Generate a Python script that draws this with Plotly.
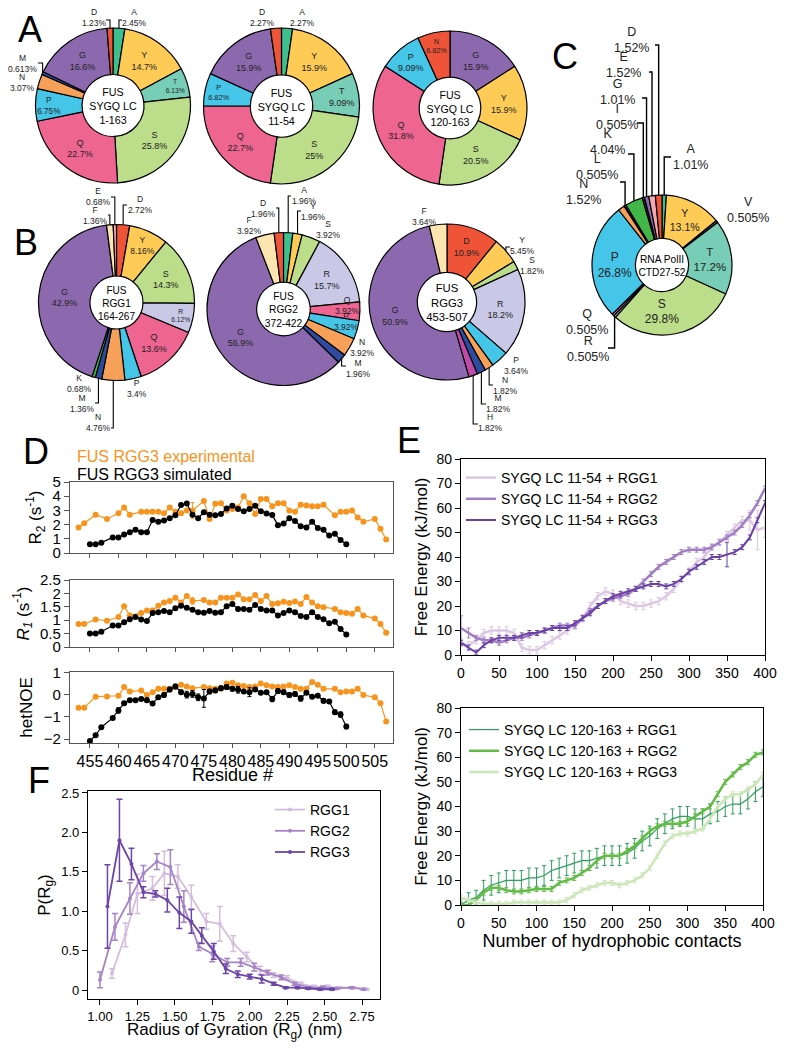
import math
import plotly.graph_objects as go

W, H = 788, 1050
PAGE_MARGIN = 8  # default <body> margin of the written page
FONT = "Arial, Liberation Sans, sans-serif"

# ---------------- amino-acid compositions (%), clockwise from 12 o'clock ----------------
a1_res = ["A", "Y", "T", "S", "Q", "P", "N", "M", "G", "D"]
a1_pct = [2.45, 14.7, 6.13, 25.8, 22.7, 6.75, 3.07, 0.613, 16.6, 1.23]
a2_res = ["A", "Y", "T", "S", "Q", "P", "G", "D"]
a2_pct = [2.27, 15.9, 9.09, 25, 22.7, 6.82, 15.9, 2.27]
a3_res = ["G", "Y", "S", "Q", "P", "N"]
a3_pct = [15.9, 15.9, 20.5, 31.8, 9.09, 6.82]
b1_res = ["D", "Y", "S", "R", "Q", "P", "N", "M", "K", "G", "F", "E"]
b1_pct = [2.72, 8.16, 14.3, 6.12, 13.6, 3.4, 4.76, 1.36, 0.68, 42.9, 1.36, 0.68]
b2_res = ["A", "Y", "S", "R", "Q", "P", "N", "M", "G", "F", "D"]
b2_pct = [1.96, 1.96, 3.92, 15.7, 3.92, 3.92, 3.92, 1.96, 56.9, 3.92, 1.96]
b3_res = ["D", "Y", "S", "R", "P", "N", "M", "H", "G", "F"]
b3_pct = [10.9, 5.45, 1.82, 18.2, 3.64, 1.82, 1.82, 1.82, 50.9, 3.64]
c_res = ["A", "Y", "V", "T", "S", "R", "Q", "P", "N", "L", "K", "I", "G", "E", "D"]
c_pct = [1.01, 13.1, 0.505, 17.2, 29.8, 0.505, 0.505, 26.8, 1.52, 0.505, 4.04, 0.505, 1.01, 1.52, 1.52]

# ---------------- D: NMR relaxation of FUS RGG3 ----------------
exp_res = [453, 454, 456, 458, 460, 461, 462, 464, 465, 466, 467, 468, 469, 470, 471, 472, 473,
           475, 476, 477, 478, 479, 480, 481, 482, 483, 484, 485, 486, 487, 488, 489, 490, 491,
           492, 493, 494, 495, 496, 498, 499, 500, 501, 502, 503, 505, 506, 507]
exp_r2 = [1.8, 2.1, 2.7, 2.4, 2.8, 3.2, 2.7, 2.9, 2.9, 2.9, 2.9, 2.8, 3.2, 2.9, 2.8, 3.0, 3.0,
          3.66, 2.4, 3.46, 3.5, 3.0, 3.1, 3.2, 4.0, 3.5, 2.75, 3.8, 3.8, 3.3, 3.5, 3.5, 3.0, 2.9,
          3.4, 3.35, 3.3, 3.3, 3.4, 2.65, 2.9, 2.9, 3.0, 2.5, 2.2, 2.4, 1.7, 0.95]
exp_r1 = [0.86, 0.86, 1.03, 0.98, 1.12, 1.52, 1.18, 1.27, 1.36, 1.36, 1.54, 1.66, 1.72, 1.84, 1.66,
          1.90, 1.72, 1.75, 1.66, 1.66, 1.84, 1.84, 1.84, 1.96, 1.78, 1.78, 1.94, 1.72, 1.90, 1.60,
          1.63, 1.69, 1.64, 1.70, 1.60, 1.87, 1.66, 1.52, 1.48, 1.42, 1.30, 1.27, 1.24, 1.42, 1.18,
          1.06, 0.86, 0.53]
exp_noe = [-0.59, -0.59, -0.09, -0.08, -0.05, 0.34, 0.14, 0.19, -0.02, 0.11, 0.26, 0.26, 0.26, 0.34,
           0.45, 0.37, 0.29, 0.34, 0.29, 0.26, 0.26, 0.50, 0.53, 0.42, 0.39, 0.34, 0.37, 0.50, 0.42,
           0.37, 0.34, 0.37, 0.42, 0.34, 0.26, 0.26, 0.57, 0.45, 0.26, 0.26, 0.11, 0.14, 0.14, 0.26,
           -0.02, -0.12, -0.39, -1.21]
exp_r2_err = [0.55 if r == 473 else 0.0 for r in exp_res]
exp_r1_err = [0.12 if r == 473 else 0.0 for r in exp_res]

sim_res = [455, 456, 457] + list(range(459, 501))
sim_r2 = [0.61, 0.61, 0.73, 1.10, 1.10, 1.30, 1.47, 1.64, 1.47, 1.47, 2.33, 2.2, 2.28, 2.45, 2.65,
          3.38, 3.48, 2.7, 2.45, 2.87, 2.7, 2.65, 2.75, 3.14, 3.33, 3.1, 2.94, 3.1, 3.33, 2.94, 2.79,
          2.67, 1.96, 2.08, 2.45, 2.25, 1.89, 1.8, 2.2, 1.76, 1.64, 1.23, 1.35, 0.91, 0.61]
sim_r1 = [0.50, 0.50, 0.57, 0.80, 0.80, 0.92, 1.04, 1.12, 1.03, 0.97, 1.27, 1.30, 1.34, 1.30, 1.45,
          1.54, 1.46, 1.39, 1.30, 1.28, 1.34, 1.28, 1.30, 1.52, 1.60, 1.42, 1.42, 1.39, 1.57, 1.42,
          1.36, 1.36, 1.18, 1.27, 1.36, 1.30, 1.16, 1.12, 1.30, 1.12, 1.04, 0.89, 0.94, 0.67, 0.47]
sim_noe = [-2.09, -1.83, -1.47, -1.05, -0.71, -0.39, -0.25, -0.25, -0.20, -0.25, -0.40, -0.12, -0.02,
           0.23, 0.37, 0.11, 0.0, 0.03, -0.12, -0.17, 0.14, 0.19, 0.29, 0.34, 0.26, 0.22, 0.14, 0.11,
           0.23, 0.08, 0.11, -0.20, 0.16, 0.11, -0.02, 0.03, -0.17, 0.08, -0.09, -0.05, -0.28, -0.31,
           -0.79, -0.90, -1.44]
sim_noe_err = [0.05, 0.05, 0.05, 0.05, 0.12, 0.05, 0.05, 0.05, 0.05, 0.1, 0.05, 0.05, 0.1, 0.1, 0.1,
               0.1, 0.15, 0.15, 0.15, 0.4, 0.1, 0.1, 0.1, 0.1, 0.1, 0.15, 0.05, 0.2, 0.05, 0.05, 0.05,
               0.12, 0.1, 0.1, 0.1, 0.1, 0.12, 0.05, 0.05, 0.05, 0.1, 0.08, 0.1, 0.12, 0.1]

# ---------------- E: free energy vs hydrophobic contacts ----------------
contacts = list(range(0, 401, 10))
lc54_rgg1 = [5, 4, 6, 9, 10, 10, 10, 9, 3, 2, 2, 4, 6, 8, 10, 12, 15, 20, 24, 26, 25, 22, 21, 20,
             20, 21, 22, 24, 27, 31, 34, 38, 40, 44, 46, 49, 52, 55, 55, 51, 52]
lc54_rgg2 = [11, 9, 7, 6, 6, 5, 6, 7, 7, 8, 9, 10, 11, 12, 12, 12, 15, 18, 20, 22, 23, 24, 25, 27,
             30, 33, 36, 38, 40, 42, 43, 43, 43, 44, 46, 48, 50, 53, 57, 62, 68]
lc54_rgg3 = [5, 3, 1, 4, 6, 7, 7, 7, 8, 9, 9, 10, 11, 11, 11, 13, 15, 17, 20, 22, 24, 25, 26, 27,
             28, 29, 29, 28, 29, 31, 34, 36, 38, 40, 40, 41, 42, 44, 48, 55, 62]
lc54_rgg1_err = [1.5] * 38 + [4, 8, 4]
lc54_rgg2_err = [5, 2] + [1] * 39
lc54_rgg3_err = [1] * 35 + [5, 1, 1, 1, 1, 1]

lc163_rgg1 = [0, 2, 3, 6, 8, 9, 10, 10, 10, 11, 11, 12, 14, 15, 16, 17, 18, 18, 19, 20, 20, 20, 21,
              23, 26, 28, 31, 33, 35, 36, 36, 35, 35, 37, 38, 40, 41, 41, 43, 46, 48]
lc163_rgg2 = [0, 0, 2, 5, 7, 7, 6, 5.5, 5.5, 6, 6.5, 6.5, 6.5, 9, 10, 11, 13, 15, 18, 20, 20, 20,
              22, 24, 27, 30, 32, 33, 33, 33, 34, 36, 38, 40, 45, 50, 53, 56, 58, 61, 62]
lc163_rgg3 = [3, 2, 1, 0.5, 0.5, 0.5, 0.5, 1, 1, 1, 1, 1, 1, 1, 2, 4, 6, 7, 8, 9, 9, 8, 9, 10,
              12, 15, 20, 25, 28, 29, 29, 30, 31, 35, 40, 43, 45, 45, 47, 49, 53]
lc163_rgg1_err = [3, 3, 3] + [4] * 38
lc163_rgg2_err = [1] * 41
lc163_rgg3_err = [1] * 41

# ---------------- F: radius of gyration distributions ----------------
rg1_x = [1.08, 1.17, 1.25, 1.35, 1.43, 1.52, 1.61, 1.71, 1.80, 1.89, 1.98, 2.07, 2.16, 2.25, 2.34,
         2.43, 2.52, 2.60, 2.69, 2.78]
rg1_y = [0.21, 0.70, 1.22, 1.29, 1.48, 1.44, 1.18, 0.87, 0.84, 0.59, 0.42, 0.25, 0.19, 0.15, 0.08,
         0.04, 0.04, 0.03, 0.03, 0.01]
rg1_e = [0.06, 0.15, 0.25, 0.15, 0.28, 0.15, 0.15, 0.1, 0.22, 0.1, 0.06, 0.05, 0.03, 0.03, 0.02,
         0.02, 0.02, 0.01, 0.01, 0.01]
rg2_x = [1.00, 1.10, 1.20, 1.29, 1.38, 1.47, 1.56, 1.66, 1.75, 1.85, 1.94, 2.03, 2.12, 2.21, 2.30,
         2.40, 2.49, 2.58, 2.68, 2.76]
rg2_y = [0.13, 0.80, 1.16, 1.48, 1.63, 1.56, 1.06, 0.55, 0.46, 0.35, 0.35, 0.29, 0.22, 0.16, 0.08,
         0.03, 0.03, 0.02, 0.03, 0.01]
rg2_e = [0.1, 0.17, 0.2, 0.1, 0.1, 0.22, 0.2, 0.05, 0.1, 0.05, 0.05, 0.05, 0.03, 0.03, 0.02, 0.01,
         0.02, 0.01, 0.01, 0.01]
rg3_x = [1.05, 1.13, 1.21, 1.29, 1.37, 1.45, 1.53, 1.61, 1.68, 1.76, 1.84, 1.92, 2.00, 2.08, 2.16,
         2.24, 2.32, 2.39, 2.47, 2.55]
rg3_y = [1.06, 1.90, 1.60, 1.24, 1.22, 1.14, 0.98, 0.87, 0.69, 0.49, 0.27, 0.20, 0.17, 0.14, 0.08,
         0.03, 0.03, 0.02, 0.01, 0.01]
rg3_e = [0.53, 0.52, 0.2, 0.07, 0.04, 0.15, 0.2, 0.15, 0.1, 0.1, 0.06, 0.04, 0.03, 0.05, 0.02, 0.01,
         0.01, 0.01, 0.01, 0.01]

AA_COLORS = {
    "A": "#3dbf8e", "Y": "#fecb57", "T": "#77cdb5", "S": "#bcdd89", "Q": "#ee6592",
    "P": "#45c5e8", "N": "#f7a05a", "M": "#2e4b9f", "G": "#8c69ae", "D": "#ef5438",
    "R": "#c9c9e7", "F": "#fde5b1", "E": "#f3a8b0", "K": "#43b649", "H": "#c04ba6",
    "V": "#555555", "I": "#333333", "L": "#222222",
}
ORANGE = "#f7941d"


# screen pixel -> paper coordinates (the page puts the figure 8px in from the corner)
def fx(px):
    return (px - PAGE_MARGIN) / W


def fy(py):
    return 1 - (py - PAGE_MARGIN) / H


fig = go.Figure()
shapes, annotations = [], []

# pie geometry in pixels: centre x, centre y, radius, hole
PIES = {
    "a1": dict(res=a1_res, pct=a1_pct, cx=113, cy=105.5, r=77.5, hole=0.40,
               title="FUS<br>SYGQ LC<br>1-163", inside=["Y", "T", "S", "Q", "P", "G"]),
    "a2": dict(res=a2_res, pct=a2_pct, cx=281.5, cy=106, r=78, hole=0.40,
               title="FUS<br>SYGQ LC<br>11-54", inside=["Y", "T", "S", "Q", "P", "G"]),
    "a3": dict(res=a3_res, pct=a3_pct, cx=450, cy=108, r=77, hole=0.40,
               title="FUS<br>SYGQ LC<br>120-163", inside=a3_res, override={"N": AA_COLORS["D"]}),
    "b1": dict(res=b1_res, pct=b1_pct, cx=116.5, cy=302.5, r=78, hole=0.34,
               title="FUS<br>RGG1<br>164-267", inside=["Y", "S", "R", "Q", "G"]),
    "b2": dict(res=b2_res, pct=b2_pct, cx=283.5, cy=309, r=76.5, hole=0.35,
               title="FUS<br>RGG2<br>372-422", inside=["R", "G"]),
    "b3": dict(res=b3_res, pct=b3_pct, cx=447, cy=302, r=78, hole=0.38,
               title="FUS<br>RGG3<br>453-507", inside=["D", "R", "G"]),
    "c": dict(res=c_res, pct=c_pct, cx=662, cy=265, r=70, hole=0.38,
              title="RNA PolII<br>CTD27-52", inside=["Y", "T", "S", "P"], big=True),
}

for key, p in PIES.items():
    big = p.get("big", False)
    ov = p.get("override", {})
    colors = [ov.get(a, AA_COLORS[a]) for a in p["res"]]
    text = [f"{a}<br>{v:g}%" if a in p["inside"] else "" for a, v in zip(p["res"], p["pct"])]
    fig.add_trace(go.Pie(
        labels=p["res"], values=p["pct"], sort=False, direction="clockwise", rotation=0,
        hole=p["hole"], text=text, textinfo="text", textposition="inside",
        insidetextorientation="horizontal",
        textfont=dict(size=12 if big else 9, color="#222", family=FONT),
        marker=dict(colors=colors, line=dict(color="black", width=1.2)),
        domain=dict(x=[fx(p["cx"] - p["r"]), fx(p["cx"] + p["r"])],
                    y=[fy(p["cy"] + p["r"]), fy(p["cy"] - p["r"])]),
        title=dict(text=p["title"], position="middle center",
                   font=dict(size=13 if big else 14, color="black", family=FONT)),
        showlegend=False, hoverinfo="skip",
    ))

# outside labels: pie, residue, label centre (px), leader elbow y, leader end x
OUT_LABELS = [
    ("a1", "D", 94, 18, 20, 106), ("a1", "A", 134, 18, 20, 122),
    ("a1", "M", 22, 63, 63, 38), ("a1", "N", 22, 82, None, None),
    ("a2", "D", 262, 18, None, None), ("a2", "A", 302, 18, None, None),
    ("b1", "E", 98, 197, 197, 111), ("b1", "F", 95, 215, 215, 108),
    ("b1", "D", 140, 205, 205, 127), ("b1", "K", 79, 384, None, None),
    ("b1", "M", 82, 403, 403, 95), ("b1", "N", 98, 422, 428, 111),
    ("b1", "P", 137, 388, None, None),
    ("b2", "F", 250, 225, None, None), ("b2", "D", 263, 208, 208, 276),
    ("b2", "A", 304, 196, 196, 291), ("b2", "Y", 313, 211, 211, 301),
    ("b2", "S", 328, 230, None, None), ("b2", "Q", 347, 305, None, None),
    ("b2", "P", 346, 321, None, None), ("b2", "N", 362, 348, None, None),
    ("b2", "M", 358, 368, 366, 346),
    ("b3", "F", 425, 217, None, None), ("b3", "Y", 522, 245, 247, 510),
    ("b3", "S", 532, 265, None, None), ("b3", "P", 516, 365, None, None),
    ("b3", "N", 506, 385, 385, 493), ("b3", "M", 498, 403, 404, 486),
    ("b3", "H", 490, 422, 424, 478),
    ("c", "D", 631, 40, 45, 655), ("c", "E", 623, 65, 72, 649),
    ("c", "G", 617, 92, 98, 642), ("c", "I", 617, 117, 123, 637),
    ("c", "K", 607, 142, 154, 628), ("c", "L", 597, 167, 182, 620),
    ("c", "N", 583, 192, None, None), ("c", "A", 690, 157, 157, 671),
    ("c", "V", 748, 210, None, None), ("c", "Q", 587, 322, None, None),
    ("c", "R", 588, 349, 348, 608),
]

for key, aa, lx, ly, ey, ex in OUT_LABELS:
    p = PIES[key]
    big = p.get("big", False)
    i = p["res"].index(aa)
    v = p["pct"][i]
    total = sum(p["pct"])
    mid = (sum(p["pct"][:i]) + v / 2) / total * 2 * math.pi
    annotations.append(dict(
        text=f"{aa}<br>{v:g}%", x=fx(lx), y=fy(ly), xref="paper", yref="paper",
        showarrow=False, xanchor="center", yanchor="middle", align="center",
        font=dict(size=12.5 if big else 8.5, color="#222")))
    if ey is not None:
        ax = p["cx"] + p["r"] * math.sin(mid)
        ay = p["cy"] - p["r"] * math.cos(mid)
        shapes.append(dict(
            type="path", xref="paper", yref="paper",
            path=f"M {fx(ax)},{fy(ay)} L {fx(ax)},{fy(ey)} L {fx(ex)},{fy(ey)}",
            line=dict(color="black", width=1.4 if big else 1.1)))

# ---------------- D traces ----------------
d_panels = [("y", exp_r2, sim_r2, exp_r2_err, None),
            ("y2", exp_r1, sim_r1, exp_r1_err, None),
            ("y3", exp_noe, sim_noe, None, sim_noe_err)]
for n, (ya, ey_, sy_, ee, se) in enumerate(d_panels, start=1):
    xa = "x" if n == 1 else f"x{n}"
    fig.add_trace(go.Scatter(
        x=exp_res, y=ey_, xaxis=xa, yaxis=ya, mode="lines+markers",
        line=dict(color=ORANGE, width=1.2), marker=dict(color=ORANGE, size=6),
        error_y=dict(type="data", array=ee, color=ORANGE, thickness=1, width=2, visible=ee is not None),
        showlegend=False, hoverinfo="skip"))
    fig.add_trace(go.Scatter(
        x=sim_res, y=sy_, xaxis=xa, yaxis=ya, mode="lines+markers",
        line=dict(color="black", width=1.2), marker=dict(color="black", size=6),
        error_y=dict(type="data", array=se, color="black", thickness=1, width=2, visible=se is not None),
        showlegend=False, hoverinfo="skip"))

# ---------------- E traces ----------------
e_top = [("SYGQ LC 11-54 + RGG1", lc54_rgg1, lc54_rgg1_err, "#dcc7e4", 2.5),
         ("SYGQ LC 11-54 + RGG2", lc54_rgg2, lc54_rgg2_err, "#a17ec4", 2.5),
         ("SYGQ LC 11-54 + RGG3", lc54_rgg3, lc54_rgg3_err, "#6b40a4", 2)]
for name, ys, err, col, lw in e_top:
    fig.add_trace(go.Scatter(
        x=contacts, y=ys, name=name, xaxis="x4", yaxis="y4", mode="lines",
        line=dict(color=col, width=lw),
        error_y=dict(type="data", array=err, color=col, thickness=1, width=2),
        legend="legend", hoverinfo="skip"))

e_bot = [("SYGQ LC 120-163 + RGG1", lc163_rgg1, lc163_rgg1_err, "#2f9e5c", 1.2),
         ("SYGQ LC 120-163 + RGG2", lc163_rgg2, lc163_rgg2_err, "#62bb47", 2.5),
         ("SYGQ LC 120-163 + RGG3", lc163_rgg3, lc163_rgg3_err, "#cbe6b8", 2.5)]
for name, ys, err, col, lw in e_bot:
    fig.add_trace(go.Scatter(
        x=contacts, y=ys, name=name, xaxis="x5", yaxis="y5", mode="lines",
        line=dict(color=col, width=lw),
        error_y=dict(type="data", array=err, color=col, thickness=1, width=2),
        legend="legend2", hoverinfo="skip"))

# ---------------- F traces ----------------
f_series = [("RGG1", rg1_x, rg1_y, rg1_e, "#d5bedd"),
            ("RGG2", rg2_x, rg2_y, rg2_e, "#a784c6"),
            ("RGG3", rg3_x, rg3_y, rg3_e, "#6c46a7")]
for name, xs, ys, es, col in f_series:
    fig.add_trace(go.Scatter(
        x=xs, y=ys, name=name, xaxis="x6", yaxis="y6", mode="lines+markers",
        line=dict(color=col, width=1.8), marker=dict(color=col, size=4),
        error_y=dict(type="data", array=es, color=col, thickness=1.5, width=3),
        legend="legend3", hoverinfo="skip"))

# ---------------- axes ----------------
def frame(color="black", width=1.2, ticklen=5):
    return dict(showline=True, mirror=True, linecolor=color, linewidth=width, ticks="outside",
                ticklen=ticklen, tickcolor=color, showgrid=False, zeroline=False, automargin=False,
                tickangle=0)


d_ticks = list(range(455, 506, 5))
d_x = dict(range=[451.5, 508.2], tickvals=d_ticks, **frame("#555", 1.2, 4))
layout_axes = dict(
    xaxis=dict(domain=[fx(70), fx(393)], anchor="y", showticklabels=False, **d_x),
    yaxis=dict(domain=[fy(553), fy(482)], anchor="x", range=[0, 5], dtick=1,
               title=dict(text="R<sub>2</sub> (s<sup>-1</sup>)", font=dict(size=17), standoff=6),
               tickfont=dict(size=15), **frame("#555", 1.2)),
    xaxis2=dict(domain=[fx(70), fx(393)], anchor="y2", showticklabels=False, **d_x),
    yaxis2=dict(domain=[fy(647), fy(580)], anchor="x2", range=[0, 2.5], dtick=0.5,
                title=dict(text="<i>R<sub>1</sub></i> (s<sup>-1</sup>)", font=dict(size=17), standoff=6),
                tickfont=dict(size=15), **frame("#555", 1.2)),
    xaxis3=dict(domain=[fx(70), fx(393)], anchor="y3", tickfont=dict(size=16), **d_x),
    yaxis3=dict(domain=[fy(743), fy(672)], anchor="x3", range=[-2.18, 1.02], tickvals=[-2, -1, 0, 1],
                title=dict(text="hetNOE", font=dict(size=17), standoff=6),
                tickfont=dict(size=15), **frame("#555", 1.2)),
    xaxis4=dict(domain=[fx(461), fx(765)], anchor="y4", range=[0, 400], dtick=50,
                tickfont=dict(size=14), **frame()),
    yaxis4=dict(domain=[fy(655), fy(459)], anchor="x4", range=[0, 80], dtick=10,
                title=dict(text="Free Energy (kJ/mol)", font=dict(size=17), standoff=4),
                tickfont=dict(size=14), **frame()),
    xaxis5=dict(domain=[fx(461), fx(763)], anchor="y5", range=[0, 400], dtick=50,
                title=dict(text="Number of hydrophobic contacts", font=dict(size=18), standoff=2),
                tickfont=dict(size=14), **frame()),
    yaxis5=dict(domain=[fy(905), fy(708)], anchor="x5", range=[0, 80], dtick=10,
                title=dict(text="Free Energy (kJ/mol)", font=dict(size=17), standoff=4),
                tickfont=dict(size=14), **frame()),
    xaxis6=dict(domain=[fx(88), fx(380)], anchor="y6", range=[0.92, 2.87],
                tickvals=[1.0, 1.25, 1.5, 1.75, 2.0, 2.25, 2.5, 2.75],
                ticktext=["1.00", "1.25", "1.50", "1.75", "2.00", "2.25", "2.50", "2.75"],
                tickfont=dict(size=13), **frame()),
    yaxis6=dict(domain=[fy(999), fy(791)], anchor="x6", range=[-0.114, 2.525],
                tickvals=[0, 0.5, 1.0, 1.5, 2.0, 2.5], ticktext=["0", "0.5", "1.0", "1.5", "2.0", "2.5"],
                title=dict(text="P(R<sub>g</sub>)", font=dict(size=17), standoff=6),
                tickfont=dict(size=13), **frame()),
)

# x titles that sit tight under their tick labels
for text, cx, cy, size in [("Residue #", 232, 775, 18),
                           ("Radius of Gyration (R<sub>g</sub>) (nm)", 234, 1031, 17)]:
    annotations.append(dict(text=text, x=fx(cx), y=fy(cy), xref="paper", yref="paper",
                            showarrow=False, xanchor="center", yanchor="middle",
                            font=dict(size=size, color="black")))

# panel letters and D legend text
for letter, cx, cy in [("A", 30, 30), ("B", 26, 242), ("C", 565, 57), ("D", 36, 452),
                       ("E", 409, 440), ("F", 39, 780)]:
    annotations.append(dict(text=letter, x=fx(cx), y=fy(cy), xref="paper", yref="paper",
                            showarrow=False, xanchor="center", yanchor="middle",
                            font=dict(size=36, color="black")))
annotations.append(dict(text="FUS RGG3 experimental", x=fx(75), y=fy(456), xref="paper", yref="paper",
                        showarrow=False, xanchor="left", yanchor="middle", font=dict(size=16, color=ORANGE)))
annotations.append(dict(text="FUS RGG3 simulated", x=fx(75), y=fy(474), xref="paper", yref="paper",
                        showarrow=False, xanchor="left", yanchor="middle", font=dict(size=16, color="black")))

leg = dict(xanchor="left", yanchor="top", bgcolor="rgba(0,0,0,0)", font=dict(size=14),
           tracegroupgap=0, itemwidth=30)
fig.update_layout(
    width=W, height=H, margin=dict(l=0, r=0, t=0, b=0, autoexpand=False),
    paper_bgcolor="white", plot_bgcolor="white",
    font=dict(family=FONT, color="black"),
    hovermode=False,
    legend=dict(x=fx(461), y=fy(462), **leg),
    legend2=dict(x=fx(464), y=fy(714), **leg),
    legend3=dict(x=fx(270), y=fy(794), **leg),
    shapes=shapes, annotations=annotations,
    **layout_axes,
)

fig.write_html("out.html")
